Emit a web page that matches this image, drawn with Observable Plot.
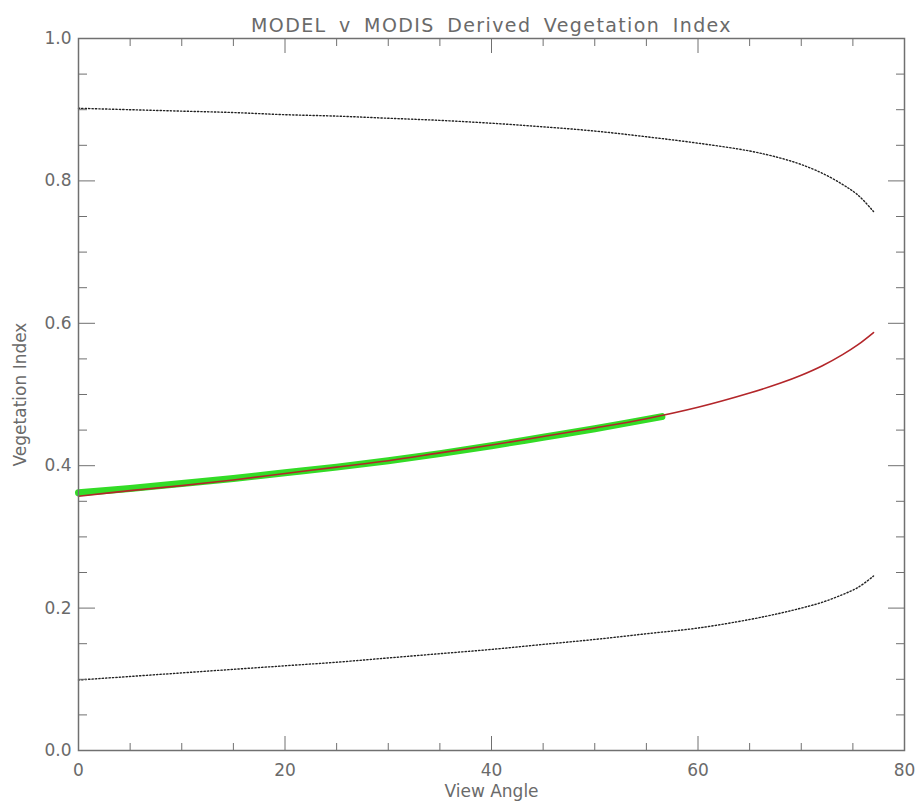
<!DOCTYPE html>
<html>
<head>
<meta charset="utf-8">
<script src="https://cdn.jsdelivr.net/npm/d3@7"></script>
<script src="https://cdn.jsdelivr.net/npm/@observablehq/plot@0.6"></script>
<style>
  html, body { margin: 0; padding: 0; background: #fff; }
</style>
</head>
<body>
<div id="chart"></div>
<script>
const titleText = "MODEL v MODIS Derived Vegetation Index";
const xLabel = "View Angle";
const yLabel = "Vegetation Index";

// View angles (degrees)
const angles      = [0, 5, 10, 15, 20, 25, 30, 35, 40, 45, 50, 55, 60, 65, 68, 70, 72, 74, 75.5, 77];
// Upper dotted envelope
const upperVI     = [0.902, 0.900, 0.898, 0.896, 0.893, 0.891, 0.888, 0.885, 0.881, 0.876, 0.870, 0.862, 0.853, 0.842, 0.832, 0.823, 0.811, 0.795, 0.780, 0.757];
// Lower dotted envelope
const lowerVI     = [0.099, 0.104, 0.109, 0.114, 0.119, 0.124, 0.130, 0.136, 0.142, 0.149, 0.156, 0.164, 0.172, 0.184, 0.193, 0.200, 0.208, 0.219, 0.229, 0.245];
// Model (red)
const modelVI     = [0.357, 0.365, 0.372, 0.380, 0.389, 0.398, 0.407, 0.418, 0.429, 0.441, 0.453, 0.466, 0.482, 0.502, 0.516, 0.527, 0.540, 0.556, 0.570, 0.587];
// MODIS (green)
const modisAngles = [0, 5, 10, 15, 20, 25, 30, 35, 40, 45, 50, 56.5];
const modisVI     = [0.362, 0.368, 0.375, 0.382, 0.390, 0.398, 0.407, 0.417, 0.428, 0.440, 0.452, 0.469];

const xMajorTicks = [0, 20, 40, 60, 80];
const xMinorTicks = [5, 10, 15, 25, 30, 35, 45, 50, 55, 65, 70, 75];
const yMajorTicks = [0, 0.2, 0.4, 0.6, 0.8, 1.0];
const yMinorTicks = [0.05, 0.1, 0.15, 0.25, 0.3, 0.35, 0.45, 0.5, 0.55, 0.65, 0.7, 0.75, 0.85, 0.9, 0.95];

const upper = angles.map((a, i) => ({a, v: upperVI[i]}));
const lower = angles.map((a, i) => ({a, v: lowerVI[i]}));
const model = angles.map((a, i) => ({a, v: modelVI[i]}));
const modis = modisAngles.map((a, i) => ({a, v: modisVI[i]}));

const axisColor = "#707070";
const textColor = "#6a6a6a";

const tickAxes = [
  Plot.axisX(xMajorTicks, {anchor: "bottom", tickSize: -14, fill: "none", stroke: axisColor, label: null}),
  Plot.axisX(xMinorTicks, {anchor: "bottom", tickSize: -7, fill: "none", stroke: axisColor, label: null}),
  Plot.axisX(xMajorTicks, {anchor: "top", tickSize: -14, fill: "none", stroke: axisColor, label: null}),
  Plot.axisX(xMinorTicks, {anchor: "top", tickSize: -7, fill: "none", stroke: axisColor, label: null}),
  Plot.axisY(yMajorTicks, {anchor: "left", tickSize: -17, fill: "none", stroke: axisColor, label: null}),
  Plot.axisY(yMinorTicks, {anchor: "left", tickSize: -9, fill: "none", stroke: axisColor, label: null}),
  Plot.axisY(yMajorTicks, {anchor: "right", tickSize: -17, fill: "none", stroke: axisColor, label: null}),
  Plot.axisY(yMinorTicks, {anchor: "right", tickSize: -9, fill: "none", stroke: axisColor, label: null}),
  Plot.axisX(xMajorTicks, {anchor: "bottom", tickSize: 0, tickPadding: 13, tickFormat: d => String(d), fill: textColor, label: null}),
  Plot.axisY(yMajorTicks, {anchor: "left", tickSize: 0, tickPadding: 7, tickFormat: d => d.toFixed(1), fill: textColor, label: null})
];

const chart = Plot.plot({
  width: 918,
  height: 803,
  marginLeft: 78,
  marginRight: 14,
  marginTop: 38,
  marginBottom: 53,
  style: {fontFamily: "DejaVu Sans", fontSize: "17px", color: textColor, background: "#fff"},
  x: {domain: [0, 80]},
  y: {domain: [0, 1]},
  marks: [
    Plot.line(upper, {x: "a", y: "v", stroke: "#222", strokeWidth: 1.4, strokeDasharray: "1.3,2.1", curve: "catmull-rom"}),
    Plot.line(lower, {x: "a", y: "v", stroke: "#222", strokeWidth: 1.4, strokeDasharray: "1.3,2.1", curve: "catmull-rom"}),
    Plot.line(modis, {x: "a", y: "v", stroke: "#33dc26", strokeWidth: 7, strokeLinecap: "round", curve: "catmull-rom"}),
    Plot.line(model, {x: "a", y: "v", stroke: "#b3262a", strokeWidth: 1.6, curve: "catmull-rom"}),
    Plot.frame({stroke: axisColor, strokeWidth: 1.5}),
    ...tickAxes,
    Plot.text([titleText], {frameAnchor: "top", dy: -20, fontSize: 19, fill: textColor}),
    Plot.text([xLabel], {frameAnchor: "bottom", dy: 46, fontSize: 17, fill: textColor}),
    Plot.text([yLabel], {frameAnchor: "left", dx: -58, rotate: -90, textAnchor: "middle", fontSize: 17, fill: textColor})
  ]
});

// Widen the title's letter and word spacing (IDL vector-font look)
d3.select(chart).selectAll("text")
  .filter(function() { return this.textContent === titleText; })
  .style("letter-spacing", "1.4px")
  .style("word-spacing", "5px");

document.getElementById("chart").appendChild(chart);
</script>
</body>
</html>
